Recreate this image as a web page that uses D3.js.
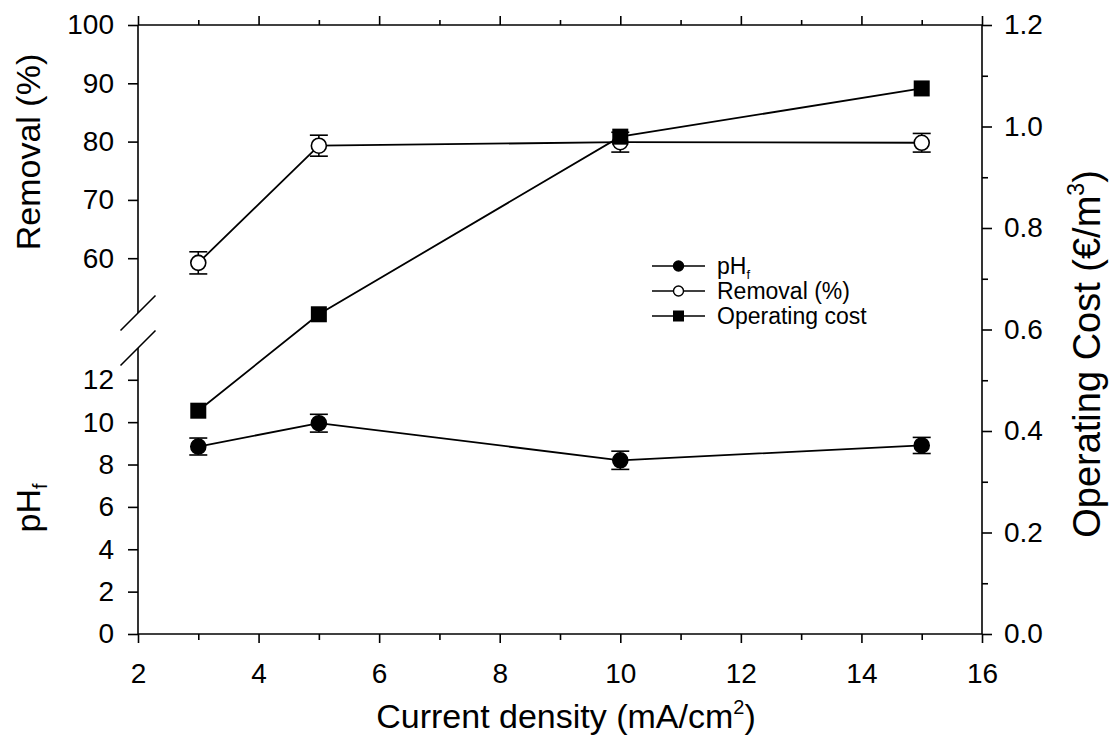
<!DOCTYPE html>
<html>
<head>
<meta charset="utf-8">
<script src="https://cdn.jsdelivr.net/npm/d3@7"></script>
<style>
  html, body { margin: 0; padding: 0; background: #fff; }
  svg { display: block; font-family: "Liberation Sans", Arial, Helvetica, sans-serif; }
</style>
</head>
<body>
<svg id="chart" width="1110" height="751"></svg>
<script>
// Current density (mA/cm2) at which each run was made
const currentDensity = [3, 5, 10, 15];
// Final pH with standard deviation
const phFinal = [8.85, 9.95, 8.2, 8.9];
const phErr = [0.4, 0.42, 0.43, 0.38];
// Removal efficiency (%) with standard deviation
const removal = [59.2, 79.3, 79.9, 79.8];
const removalErr = [1.9, 1.8, 1.7, 1.6];
// Operating cost (EUR/m3)
const operatingCost = [0.44, 0.63, 0.98, 1.075];

// Axis ticks
const xMajorTicks = [2, 4, 6, 8, 10, 12, 14, 16];
const xMinorTicks = [3, 5, 7, 9, 11, 13, 15];
const removalTicks = [60, 70, 80, 90, 100];
const phTicks = [0, 2, 4, 6, 8, 10, 12];
const costMajorTicks = [0, 0.2, 0.4, 0.6, 0.8, 1.0, 1.2];
const costMinorTicks = [0.1, 0.3, 0.5, 0.7, 0.9, 1.1];

const legendItems = [
  { key: "ph", label: "pH", sub: "f", marker: "circle", fill: "#000" },
  { key: "removal", label: "Removal (%)", marker: "circle", fill: "#fff" },
  { key: "cost", label: "Operating cost", marker: "square", fill: "#000" }
];

// Frame geometry
const L = 138, R = 982, T = 25, B = 634;
const breakTop = 313, breakBottom = 348;
const tickFont = 28, titleFont = 34, legendFont = 23;

const svg = d3.select("#chart");

const x = d3.scaleLinear().domain([2, 16]).range([L, R]);
const yCost = d3.scaleLinear().domain([0, 1.2]).range([B, T]);
// Broken left axis: upper part for removal, lower part for pH
const yRemoval = d3.scaleLinear().domain([50, 100]).range([316.5, T]);
const yPh = d3.scaleLinear().domain([0, 13.5]).range([B, breakBottom]);

const axisG = svg.append("g").attr("stroke", "#000").attr("stroke-width", 1.6).attr("fill", "none");

// Bottom axis
svg.append("g").attr("transform", `translate(0,${B})`)
  .call(d3.axisBottom(x).tickValues(xMajorTicks).tickSize(9).tickPadding(20).tickFormat(d3.format("d")));
svg.append("g").attr("transform", `translate(0,${B})`)
  .call(d3.axisBottom(x).tickValues(xMinorTicks).tickSize(6).tickFormat(""));
// Top axis (ticks only)
svg.append("g").attr("transform", `translate(0,${T})`)
  .call(d3.axisTop(x).tickValues(xMajorTicks).tickSize(9).tickFormat(""));
svg.append("g").attr("transform", `translate(0,${T})`)
  .call(d3.axisTop(x).tickValues(xMinorTicks).tickSize(5).tickFormat(""));

// Right axis: operating cost
svg.append("g").attr("transform", `translate(${R},0)`)
  .call(d3.axisRight(yCost).tickValues(costMajorTicks).tickSize(10).tickPadding(12).tickFormat(d3.format(".1f")));
svg.append("g").attr("transform", `translate(${R},0)`)
  .call(d3.axisRight(yCost).tickValues(costMinorTicks).tickSize(6).tickFormat(""));

// Left axis, upper segment (removal)
svg.append("g").attr("transform", `translate(${L},0)`)
  .call(d3.axisLeft(yRemoval).tickValues(removalTicks).tickSize(10).tickPadding(14).tickFormat(d3.format("d")));
// Left axis, lower segment (pH)
svg.append("g").attr("transform", `translate(${L},0)`)
  .call(d3.axisLeft(yPh).tickValues(phTicks).tickSize(10).tickPadding(14).tickFormat(d3.format("d")));

// Style axes
svg.selectAll(".domain").remove();
svg.selectAll(".tick line").attr("stroke", "#000").attr("stroke-width", 1.6);
svg.selectAll(".tick text").attr("fill", "#000").attr("font-size", tickFont)
  .attr("font-family", "'Liberation Sans', Arial, sans-serif");

// Frame lines
const frame = [
  [[L, T], [R, T]],
  [[L, B], [R, B]],
  [[R, T], [R, B]],
  [[L, T], [L, breakTop]],
  [[L, breakBottom], [L, B]]
];
axisG.selectAll("line.frame").data(frame).join("line")
  .attr("x1", d => d[0][0]).attr("y1", d => d[0][1])
  .attr("x2", d => d[1][0]).attr("y2", d => d[1][1]);

// Break marks
const slashHalf = 17.5;
[breakTop, breakBottom].forEach(yb => {
  axisG.append("line")
    .attr("x1", L - slashHalf).attr("y1", yb + slashHalf)
    .attr("x2", L + slashHalf).attr("y2", yb - slashHalf);
});

// Series
const ph = currentDensity.map((c, i) => ({ x: c, y: phFinal[i], e: phErr[i] }));
const rem = currentDensity.map((c, i) => ({ x: c, y: removal[i], e: removalErr[i] }));
const cost = currentDensity.map((c, i) => ({ x: c, y: operatingCost[i] }));

const plot = svg.append("g");

function drawSeries(data, yScale, opts) {
  const g = plot.append("g");
  g.append("path").datum(data)
    .attr("fill", "none").attr("stroke", "#000").attr("stroke-width", 1.8)
    .attr("d", d3.line().x(d => x(d.x)).y(d => yScale(d.y)));
  if (opts.errors) {
    const cap = 9;
    const eb = g.selectAll("g.err").data(data).join("g").attr("stroke", "#000").attr("stroke-width", 1.6);
    eb.append("line").attr("x1", d => x(d.x)).attr("x2", d => x(d.x))
      .attr("y1", d => yScale(d.y - d.e)).attr("y2", d => yScale(d.y + d.e));
    eb.append("line").attr("x1", d => x(d.x) - cap).attr("x2", d => x(d.x) + cap)
      .attr("y1", d => yScale(d.y - d.e)).attr("y2", d => yScale(d.y - d.e));
    eb.append("line").attr("x1", d => x(d.x) - cap).attr("x2", d => x(d.x) + cap)
      .attr("y1", d => yScale(d.y + d.e)).attr("y2", d => yScale(d.y + d.e));
  }
  if (opts.marker === "circle") {
    g.selectAll("circle").data(data).join("circle")
      .attr("cx", d => x(d.x)).attr("cy", d => yScale(d.y)).attr("r", 7.5)
      .attr("fill", opts.fill).attr("stroke", "#000").attr("stroke-width", 1.6);
  } else {
    const s = 16;
    g.selectAll("rect").data(data).join("rect")
      .attr("x", d => x(d.x) - s / 2).attr("y", d => yScale(d.y) - s / 2)
      .attr("width", s).attr("height", s).attr("fill", opts.fill);
  }
}

drawSeries(ph, yPh, { errors: true, marker: "circle", fill: "#000" });
drawSeries(rem, yRemoval, { errors: true, marker: "circle", fill: "#fff" });
drawSeries(cost, yCost, { errors: false, marker: "square", fill: "#000" });

// Legend
const legend = svg.append("g").attr("transform", "translate(652,266)");
const rowH = 25;
const lg = legend.selectAll("g").data(legendItems).join("g")
  .attr("transform", (d, i) => `translate(0,${i * rowH})`);
lg.append("line").attr("x1", 0).attr("x2", 53).attr("y1", 0).attr("y2", 0)
  .attr("stroke", "#000").attr("stroke-width", 1.6);
lg.each(function(d) {
  const g = d3.select(this);
  if (d.marker === "circle") {
    g.append("circle").attr("cx", 26.5).attr("cy", 0).attr("r", 5)
      .attr("fill", d.fill).attr("stroke", "#000").attr("stroke-width", 1.4);
  } else {
    g.append("rect").attr("x", 26.5 - 5.5).attr("y", -5.5).attr("width", 11).attr("height", 11).attr("fill", d.fill);
  }
  const t = g.append("text").attr("x", 65).attr("y", 0).attr("dy", "0.35em")
    .attr("font-size", legendFont).attr("fill", "#000");
  t.append("tspan").text(d.label);
  if (d.sub) t.append("tspan").attr("font-size", 13).attr("dy", 5).text(d.sub);
});

// Axis titles
const xTitle = svg.append("text").attr("x", 566).attr("y", 728)
  .attr("text-anchor", "middle").attr("font-size", titleFont).attr("fill", "#000");
xTitle.append("tspan").text("Current density (mA/cm");
xTitle.append("tspan").attr("font-size", 20).attr("dy", -14).text("2");
xTitle.append("tspan").attr("dy", 14).text(")");

svg.append("text").attr("transform", "translate(39.5,152) rotate(-90)")
  .attr("text-anchor", "middle").attr("font-size", titleFont).attr("fill", "#000")
  .text("Removal (%)");

const phTitle = svg.append("text").attr("transform", "translate(39.5,508) rotate(-90)")
  .attr("text-anchor", "middle").attr("font-size", titleFont).attr("fill", "#000");
phTitle.append("tspan").text("pH");
phTitle.append("tspan").attr("font-size", 20).attr("dy", 7).text("f");

const costTitle = svg.append("text").attr("transform", "translate(1100,354) rotate(-90)")
  .attr("text-anchor", "middle").attr("font-size", 38).attr("fill", "#000");
costTitle.append("tspan").text("Operating Cost (€/m");
costTitle.append("tspan").attr("font-size", 23).attr("dy", -16).text("3");
costTitle.append("tspan").attr("dy", 16).text(")");
</script>
</body>
</html>
